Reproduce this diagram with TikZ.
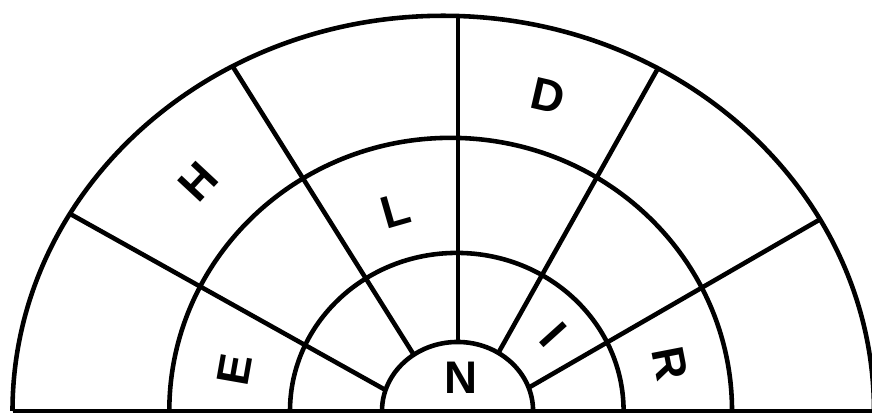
\documentclass[tikz,border=0pt]{standalone}
\usepackage{fontspec}
\setmainfont{Liberation Sans}
\definecolor{tinta}{HTML}{000000}

\begin{document}
\begin{tikzpicture}[x=0.01cm, y=-0.01cm,
  linea/.style={draw=tinta, line width=1.3pt},
  letra/.style={font=\fontsize{13}{13}\selectfont\bfseries, text=tinta, inner sep=0pt}]
\clip (0,0) rectangle (872,415);
% radios
\draw[linea] (458,16) -- (458,342);
\draw[linea] (233,67) -- (413.8,354.8);
\draw[linea] (657,70) -- (498.3,353);
\draw[linea] (69.8,213.7) -- (385.5,390);
\draw[linea] (819,220) -- (529,387.5);
% aros
\draw[linea] (12.5,411) arc[start angle=180, end angle=0, x radius=4.305cm, y radius=3.95cm];
\draw[linea] (169.3,411) arc[start angle=180, end angle=0, x radius=2.812cm, y radius=2.73cm];
\draw[linea] (290,411) arc[start angle=180, end angle=0, x radius=1.667cm, y radius=1.58cm];
\draw[linea] (382,411) arc[start angle=180, end angle=0, x radius=0.755cm, y radius=0.69cm];
\draw[linea] (12.5,411) -- (873.5,411);
% letras
\node[letra] (n) at (461,378) {N};
\node[letra, rotate=80] (e) at (235,370) {E};
\node[letra, rotate=47] (h) at (198,182) {H};
\node[letra, rotate=16] (l) at (396,211) {L};
\node[letra, rotate=-13] (d) at (548,96) {D};
\node[letra, rotate=-48] (i) at (553,335) {I};
\node[letra, rotate=-79] (r) at (670,364) {R};
\end{tikzpicture}
\end{document}
